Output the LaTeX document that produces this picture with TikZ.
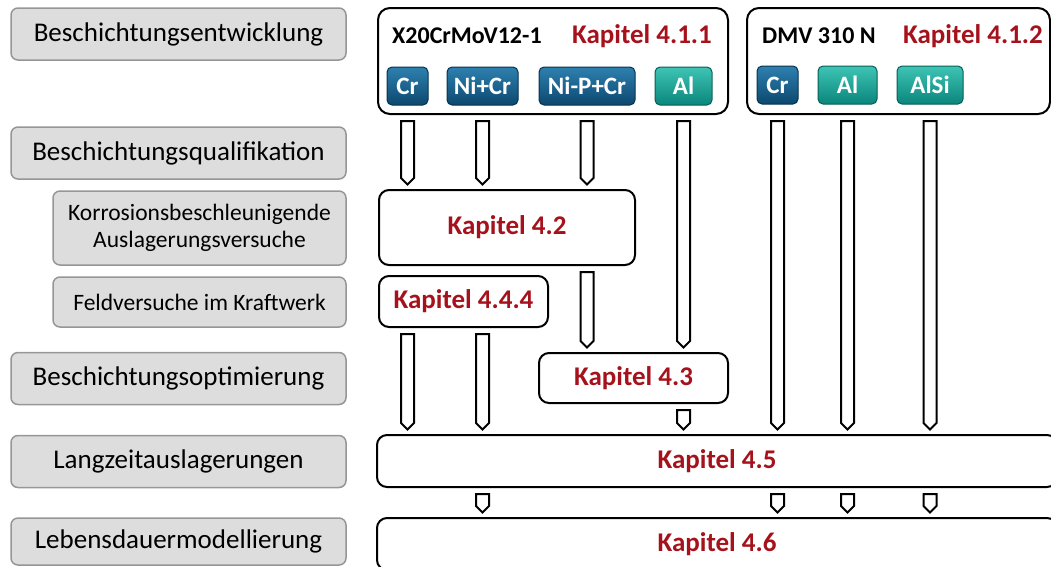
\documentclass[tikz,border=0pt]{standalone}
\usepackage{fontspec}
\setmainfont{Carlito}
\usetikzlibrary{positioning,calc}

\definecolor{kapred}{RGB}{165,18,28}
\definecolor{lblfill}{RGB}{221,221,221}
\definecolor{lblborder}{RGB}{150,150,150}
\definecolor{btnbluetop}{RGB}{46,128,176}
\definecolor{btnbluebot}{RGB}{12,72,110}
\definecolor{btntealtop}{RGB}{62,196,180}
\definecolor{btntealbot}{RGB}{10,134,124}

% block arrow: column node, start node, end node
\newcommand\blockarr[3]{%
  \draw[blkarr] let \p0=(#1), \p1=(#2.south), \p2=(#3.north) in
    (\x0-6.5pt,\y1-6pt) -- (\x0+6.5pt,\y1-6pt) -- (\x0+6.5pt,\y2+11pt)
    -- (\x0,\y2+4.5pt) -- (\x0-6.5pt,\y2+11pt) -- cycle;}

\begin{document}
\begin{tikzpicture}[x=1pt, y=-1pt,
    lbl/.style={draw=lblborder, fill=lblfill, line width=1.5pt, rounded corners=7pt, inner sep=0pt, minimum width=335pt, minimum height=52pt, font=\fontsize{27}{30}\selectfont},
    sublbl/.style={lbl, minimum width=293pt, align=center, font=\fontsize{23.5}{27}\selectfont},
    chap/.style={draw, line width=2pt, rounded corners=10pt, inner sep=0pt, text=kapred, font=\bfseries\fontsize{27}{30}\selectfont},
    grp/.style={draw, line width=2pt, rounded corners=12pt, inner sep=0pt, minimum height=106pt},
    ttl/.style={inner sep=0pt, font=\bfseries\fontsize{24}{28}\selectfont},
    btnblue/.style={draw=btnbluebot!70!black, line width=1pt, rounded corners=5pt, top color=btnbluetop, bottom color=btnbluebot, text=white, inner sep=0pt, minimum height=38pt, font=\bfseries\fontsize{25}{28}\selectfont},
    btnteal/.style={btnblue, draw=btntealbot!70!black, top color=btntealtop, bottom color=btntealbot},
    blkarr/.style={draw, fill=white, line width=2pt, line join=miter}
]
\useasboundingbox (0,0) rectangle (1051,566);
\clip (0,0) rectangle (1051,566);

% left column
\node[lbl] (lentw) at (178.5,34) {Beschichtungsentwicklung};
\node[lbl] (lqual) at (178.5,153) {Beschichtungsqualifikation};
\node[sublbl, minimum height=74pt] (lkorr) at (199.5,228) {Korrosionsbeschleunigende\\Auslagerungsversuche};
\node[sublbl, minimum height=50pt] (lfeld) at (199.5,302) {Feldversuche im Kraftwerk};
\node[lbl] (lopt) at (178.5,378.5) {Beschichtungsoptimierung};
\node[lbl] (llang) at (178.5,461.5) {Langzeitauslagerungen};
\node[lbl, minimum height=47pt] (lleben) at (178.5,541.5) {Lebensdauermodellierung};

% coating development
\node[grp, minimum width=350pt] (top1) at (553,61) {};
\node[ttl, anchor=west] (mat1) at (392,36) {X20CrMoV12-1};
\node[ttl, anchor=east, text=kapred, font=\bfseries\fontsize{27}{30}\selectfont] (k411) at (712,36) {Kapitel 4.1.1};
\node[btnblue, minimum width=41pt] (cr1) at (407.5,86) {Cr};
\node[btnblue, minimum width=71pt] (nicr) at (482.5,86) {Ni+Cr};
\node[btnblue, minimum width=96pt] (nipcr) at (587,86) {Ni-P+Cr};
\node[btnteal, minimum width=57pt] (al1) at (683.5,86) {Al};

\node[grp, minimum width=303pt] (top2) at (898.5,61) {};
\node[ttl, anchor=west] (mat2) at (762,36) {DMV 310 N};
\node[ttl, anchor=east, text=kapred, font=\bfseries\fontsize{27}{30}\selectfont] (k412) at (1043,36) {Kapitel 4.1.2};
\node[btnblue, minimum width=41pt] (cr2) at (777.5,85) {Cr};
\node[btnteal, minimum width=59pt] (al2) at (847.5,85) {Al};
\node[btnteal, minimum width=66pt] (alsi) at (930,85) {AlSi};

% chapters
\node[chap, minimum width=256pt, minimum height=75pt] (k42) at (507,227.5) {Kapitel 4.2};
\node[chap, minimum width=169pt, minimum height=51pt] (k444) at (463.5,301.5) {Kapitel 4.4.4};
\node[chap, minimum width=189pt, minimum height=50pt] (k43) at (633.5,378) {Kapitel 4.3};
\node[chap, minimum width=680pt, minimum height=52pt] (k45) at (717,461) {Kapitel 4.5};
\node[chap, minimum width=680pt, minimum height=52pt] (k46) at (717,544) {Kapitel 4.6};

% arrows
\blockarr{cr1}{top1}{k42}
\blockarr{nicr}{top1}{k42}
\blockarr{nipcr}{top1}{k42}
\blockarr{al1}{top1}{k43}
\blockarr{nipcr}{k42}{k43}
\blockarr{cr1}{k444}{k45}
\blockarr{nicr}{k444}{k45}
\blockarr{al1}{k43}{k45}
\blockarr{cr2}{top2}{k45}
\blockarr{al2}{top2}{k45}
\blockarr{alsi}{top2}{k45}
\blockarr{nicr}{k45}{k46}
\blockarr{cr2}{k45}{k46}
\blockarr{al2}{k45}{k46}
\blockarr{alsi}{k45}{k46}
\end{tikzpicture}
\end{document}
